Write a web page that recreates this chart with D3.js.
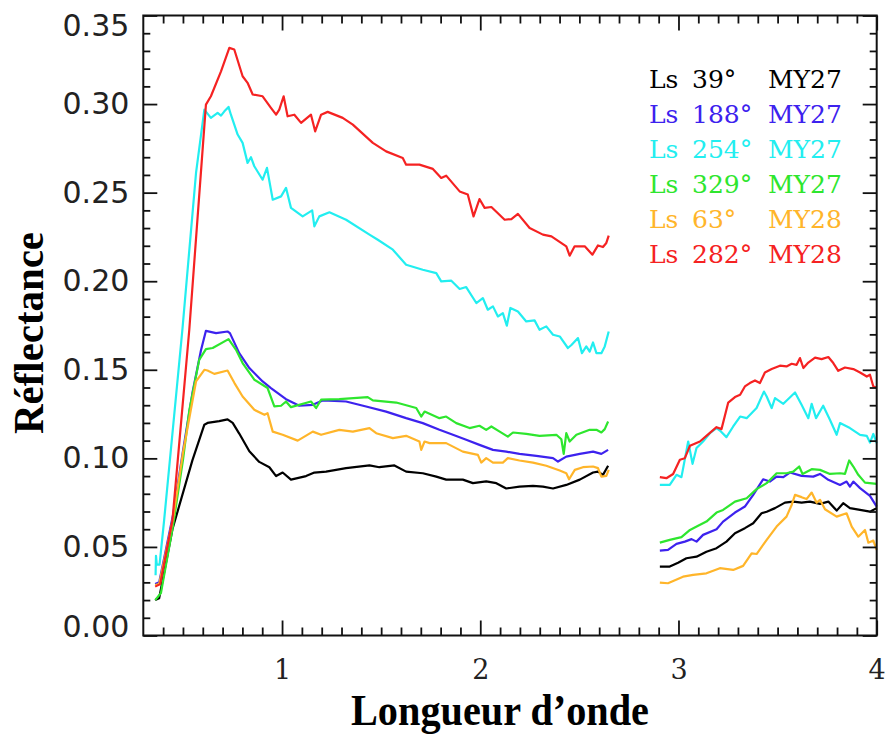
<!DOCTYPE html>
<html><head><meta charset="utf-8">
<script src="https://cdn.jsdelivr.net/npm/d3@7"></script>
<style>html,body{margin:0;padding:0;background:#fff;}</style>
</head><body>
<svg id="chart" width="885" height="735"></svg>
<script>
// ---- data: [wavelength (µm), reflectance]; null = detector gap ----
const seriesLabels = ["Ls 39°|MY27","Ls 188°|MY27","Ls 254°|MY27","Ls 329°|MY27","Ls 63°|MY28","Ls 282°|MY28"];
const seriesColors = ["#000000","#3d22ee","#22eef0","#2ee62e","#ffb52a","#f52222"];

const ls39_my27 = [[0.36,0.020],[0.38,0.021],[0.447,0.060],[0.548,0.099],[0.608,0.119],[0.624,0.120],[0.683,0.121],[0.725,0.122],[0.751,0.120],[0.784,0.114],[0.835,0.104],[0.885,0.098],[0.936,0.095],[0.97,0.090],[1.003,0.092],[1.045,0.088],[1.121,0.090],[1.163,0.092],[1.222,0.0925],[1.323,0.0945],[1.441,0.096],[1.491,0.095],[1.567,0.096],[1.626,0.0925],[1.71,0.0916],[1.778,0.0897],[1.828,0.088],[1.912,0.088],[1.963,0.086],[2.03,0.087],[2.081,0.086],[2.131,0.083],[2.198,0.084],[2.266,0.0845],[2.316,0.084],[2.367,0.083],[2.434,0.085],[2.502,0.088],[2.569,0.092],[2.594,0.0925],[2.619,0.0907],[2.645,0.0958],
  null,
  [2.906,0.0389],[2.956,0.0389],[2.998,0.0411],[3.04,0.0436],[3.091,0.0445],[3.141,0.0473],[3.192,0.0493],[3.242,0.053],[3.285,0.0577],[3.335,0.0606],[3.377,0.0634],[3.419,0.069],[3.445,0.0699],[3.487,0.0719],[3.537,0.075],[3.579,0.0756],[3.621,0.075],[3.663,0.0756],[3.714,0.0743],[3.756,0.0756],[3.798,0.0705],[3.831,0.0747],[3.865,0.0719],[3.916,0.0709],[3.966,0.0699],[4.0,0.0719]];

const ls188_my27 = [[0.36,0.029],[0.38,0.030],[0.45,0.068],[0.50,0.104],[0.548,0.137],[0.591,0.161],[0.616,0.172],[0.667,0.1707],[0.725,0.1716],[0.737,0.1707],[0.784,0.1594],[0.835,0.151],[0.902,0.1434],[0.944,0.1397],[1.02,0.1334],[1.087,0.1297],[1.155,0.1302],[1.205,0.1327],[1.323,0.1321],[1.424,0.1293],[1.525,0.1264],[1.626,0.1227],[1.71,0.1199],[1.794,0.1161],[1.862,0.1133],[1.929,0.1105],[1.996,0.1076],[2.064,0.1048],[2.131,0.1038],[2.198,0.1025],[2.283,0.1014],[2.367,0.1001],[2.392,0.0982],[2.434,0.101],[2.502,0.1025],[2.569,0.1038],[2.611,0.1025],[2.645,0.1048],
  null,
  [2.906,0.0479],[2.947,0.0483],[2.99,0.0517],[3.032,0.053],[3.066,0.0544],[3.091,0.053],[3.124,0.0568],[3.192,0.060],[3.225,0.0643],[3.285,0.0694],[3.335,0.0728],[3.377,0.0794],[3.427,0.0882],[3.461,0.0869],[3.495,0.0897],[3.529,0.0894],[3.562,0.092],[3.621,0.0901],[3.68,0.0897],[3.714,0.0912],[3.756,0.0879],[3.815,0.085],[3.848,0.0869],[3.865,0.0841],[3.882,0.0869],[3.916,0.0832],[3.966,0.0788],[4.0,0.0728]];

const ls254_my27 = [[0.362,0.034],[0.364,0.045],[0.368,0.040],[0.382,0.040],[0.405,0.065],[0.498,0.1736],[0.566,0.2611],[0.608,0.2969],[0.641,0.2922],[0.675,0.295],[0.692,0.2935],[0.709,0.2959],[0.73,0.2984],[0.742,0.294],[0.776,0.2828],[0.801,0.2781],[0.826,0.2668],[0.843,0.270],[0.86,0.2649],[0.902,0.2573],[0.924,0.264],[0.953,0.246],[0.995,0.2479],[1.02,0.2527],[1.045,0.2414],[1.104,0.2366],[1.152,0.240],[1.163,0.231],[1.188,0.2366],[1.239,0.2389],[1.323,0.2347],[1.441,0.2263],[1.483,0.2234],[1.559,0.2178],[1.626,0.2093],[1.71,0.2065],[1.778,0.2046],[1.803,0.1999],[1.854,0.2003],[1.896,0.1956],[1.929,0.1967],[1.98,0.1877],[2.013,0.1905],[2.038,0.1839],[2.064,0.1858],[2.089,0.1801],[2.114,0.182],[2.134,0.1749],[2.152,0.1849],[2.19,0.1829],[2.232,0.1773],[2.274,0.1779],[2.299,0.1726],[2.333,0.1745],[2.367,0.1698],[2.401,0.1688],[2.442,0.1623],[2.46,0.164],[2.493,0.1679],[2.513,0.1594],[2.535,0.1632],[2.552,0.1603],[2.569,0.1654],[2.586,0.1594],[2.611,0.1594],[2.628,0.1632],[2.648,0.1716],
  null,
  [2.906,0.085],[2.956,0.085],[2.99,0.0907],[3.015,0.0894],[3.049,0.1095],[3.071,0.0969],[3.091,0.1058],[3.124,0.1095],[3.158,0.1142],[3.192,0.1171],[3.209,0.1157],[3.242,0.112],[3.276,0.118],[3.311,0.1236],[3.344,0.1227],[3.394,0.1284],[3.431,0.1377],[3.445,0.1349],[3.47,0.1284],[3.487,0.134],[3.529,0.1308],[3.588,0.1372],[3.621,0.1302],[3.655,0.1227],[3.672,0.1308],[3.694,0.1227],[3.73,0.1297],[3.764,0.1218],[3.798,0.1133],[3.815,0.1199],[3.865,0.1171],[3.916,0.1133],[3.95,0.1127],[3.966,0.1089],[3.983,0.1138],[4.0,0.1086]];

const ls329_my27 = [[0.36,0.020],[0.389,0.024],[0.45,0.062],[0.50,0.099],[0.532,0.127],[0.582,0.1556],[0.616,0.1617],[0.65,0.1623],[0.73,0.1673],[0.768,0.1613],[0.801,0.1538],[0.86,0.1444],[0.927,0.1397],[0.961,0.1293],[0.995,0.1297],[1.02,0.1321],[1.045,0.1289],[1.146,0.1321],[1.172,0.1284],[1.197,0.1331],[1.289,0.1334],[1.432,0.1346],[1.458,0.1327],[1.576,0.1315],[1.677,0.1284],[1.702,0.1236],[1.719,0.1264],[1.794,0.1227],[1.828,0.1236],[1.879,0.1199],[1.946,0.1171],[1.996,0.1184],[2.03,0.1161],[2.056,0.118],[2.098,0.1151],[2.139,0.1123],[2.165,0.1146],[2.232,0.1138],[2.299,0.1127],[2.384,0.1133],[2.409,0.1108],[2.421,0.1025],[2.434,0.1142],[2.451,0.1095],[2.485,0.1133],[2.552,0.1161],[2.586,0.1161],[2.611,0.1146],[2.628,0.1165],[2.645,0.1208],
  null,
  [2.906,0.0524],[2.956,0.054],[3.015,0.0555],[3.058,0.0596],[3.099,0.0619],[3.141,0.0643],[3.192,0.0694],[3.225,0.0709],[3.285,0.0756],[3.344,0.0775],[3.394,0.0826],[3.445,0.086],[3.495,0.0916],[3.545,0.0916],[3.579,0.0925],[3.609,0.0954],[3.626,0.0912],[3.672,0.0939],[3.714,0.0935],[3.764,0.0912],[3.815,0.0916],[3.84,0.0912],[3.861,0.0988],[3.882,0.0954],[3.907,0.0907],[3.941,0.0863],[4.0,0.0856]];

const ls63_my28 = [[0.36,0.0285],[0.38,0.029],[0.45,0.066],[0.50,0.103],[0.566,0.1434],[0.608,0.150],[0.624,0.1496],[0.658,0.1477],[0.725,0.1496],[0.76,0.1425],[0.801,0.1349],[0.86,0.1274],[0.911,0.1246],[0.927,0.1255],[0.953,0.1151],[1.003,0.1133],[1.079,0.110],[1.155,0.1151],[1.197,0.1133],[1.289,0.1161],[1.357,0.1151],[1.441,0.1171],[1.475,0.1142],[1.559,0.1114],[1.626,0.1127],[1.693,0.1095],[1.702,0.1048],[1.719,0.1095],[1.744,0.1086],[1.828,0.1086],[1.912,0.1038],[1.988,0.102],[2.005,0.0976],[2.03,0.1001],[2.064,0.0976],[2.114,0.0976],[2.139,0.1001],[2.198,0.0988],[2.266,0.0976],[2.333,0.0958],[2.401,0.0931],[2.434,0.0916],[2.448,0.0882],[2.477,0.0935],[2.518,0.095],[2.569,0.0954],[2.594,0.0945],[2.611,0.0897],[2.636,0.0901],[2.648,0.0935],
  null,
  [2.906,0.0298],[2.947,0.0295],[3.023,0.0332],[3.074,0.0342],[3.141,0.0351],[3.209,0.038],[3.276,0.037],[3.326,0.0393],[3.369,0.0464],[3.394,0.046],[3.445,0.054],[3.495,0.0615],[3.545,0.0671],[3.571,0.0737],[3.588,0.0794],[3.621,0.0781],[3.646,0.077],[3.672,0.0807],[3.697,0.075],[3.714,0.0766],[3.739,0.0713],[3.798,0.0671],[3.848,0.069],[3.874,0.0615],[3.907,0.0558],[3.941,0.0596],[3.958,0.0524],[3.983,0.0536],[4.0,0.0483]];

const ls282_my28 = [[0.36,0.0276],[0.385,0.029],[0.447,0.065],[0.532,0.1726],[0.616,0.2997],[0.641,0.3044],[0.692,0.3185],[0.734,0.3317],[0.759,0.3308],[0.801,0.3157],[0.826,0.312],[0.852,0.3054],[0.902,0.3044],[0.944,0.2979],[0.97,0.294],[0.986,0.2969],[1.008,0.3044],[1.028,0.2931],[1.062,0.294],[1.096,0.2894],[1.146,0.294],[1.167,0.2846],[1.197,0.294],[1.23,0.2956],[1.306,0.2922],[1.357,0.2884],[1.458,0.2781],[1.525,0.2733],[1.609,0.2696],[1.626,0.2658],[1.693,0.2658],[1.761,0.2634],[1.803,0.2583],[1.828,0.2596],[1.896,0.2507],[1.937,0.2489],[1.966,0.2366],[1.996,0.2464],[2.022,0.2414],[2.056,0.2419],[2.123,0.2347],[2.157,0.2351],[2.19,0.238],[2.249,0.230],[2.316,0.2263],[2.359,0.2253],[2.434,0.2197],[2.451,0.2144],[2.476,0.2197],[2.527,0.2197],[2.566,0.215],[2.594,0.2202],[2.619,0.2193],[2.636,0.2216],[2.648,0.2257],
  null,
  [2.906,0.0894],[2.939,0.0888],[2.973,0.0912],[3.007,0.0992],[3.032,0.1001],[3.058,0.1071],[3.108,0.1095],[3.141,0.1127],[3.192,0.1176],[3.217,0.1165],[3.251,0.1315],[3.285,0.1346],[3.311,0.1359],[3.335,0.1406],[3.36,0.1425],[3.386,0.144],[3.411,0.1425],[3.436,0.1485],[3.47,0.1504],[3.512,0.1523],[3.545,0.1519],[3.571,0.1534],[3.596,0.1528],[3.613,0.1566],[3.63,0.151],[3.655,0.1541],[3.689,0.1569],[3.722,0.156],[3.756,0.1572],[3.781,0.1538],[3.806,0.1494],[3.84,0.1513],[3.882,0.1504],[3.916,0.1485],[3.95,0.1462],[3.966,0.1472],[3.983,0.1406],[4.0,0.140]];

const seriesData = [ls39_my27, ls188_my27, ls254_my27, ls329_my27, ls63_my28, ls282_my28];
const yMajorTicks = [0, 0.05, 0.10, 0.15, 0.20, 0.25, 0.30, 0.35];
const xMajorTicks = [1, 2, 3, 4];
const xTitle = "Longueur d’onde";
const yTitle = "Réflectance";

// ---- layout ----
const L = 143.3, R = 876.7, T = 15.5, B = 635.5;
const svg = d3.select("#chart");
const x = d3.scaleLinear().domain([0.3, 4.0]).range([L, R]);
const y = d3.scaleLinear().domain([0, 0.35]).range([B, T]);

const xMinor = d3.range(4, 40).map(d => d / 10).filter(d => !xMajorTicks.some(m => Math.abs(m - d) < 1e-9));
const yMinor = d3.range(1, 35).map(d => d / 100).filter(d => !yMajorTicks.some(m => Math.abs(m - d) < 1e-9));

// lines
const line = d3.line().defined(d => d !== null).x(d => x(d[0])).y(d => y(d[1]));
seriesData.forEach((s, i) => {
  svg.append("path").datum(s).attr("d", line)
    .attr("fill", "none").attr("stroke", seriesColors[i]).attr("stroke-width", 2.2)
    .attr("stroke-linejoin", "round");
});

function styleAxis(g) {
  g.select(".domain").remove();
  g.selectAll(".tick line").attr("stroke", "#111").attr("stroke-width", 1.8);
}
// left
svg.append("g").attr("transform", `translate(${L},0)`)
  .call(d3.axisLeft(y).tickValues(yMajorTicks).tickSizeInner(-14).tickPadding(14).tickFormat(d3.format(".2f")))
  .call(styleAxis)
  .call(g => g.selectAll("text").attr("font-family", "DejaVu Sans").attr("font-size", 30).attr("fill", "#222")
    .attr("dy", d => d === 0.35 ? "0.67em" : d === 0 ? "0.02em" : "0.32em"));
svg.append("g").attr("transform", `translate(${L},0)`)
  .call(d3.axisLeft(y).tickValues(yMinor).tickSizeInner(-7).tickFormat(""))
  .call(styleAxis);
// right
svg.append("g").attr("transform", `translate(${R},0)`)
  .call(d3.axisRight(y).tickValues(yMajorTicks).tickSizeInner(-14).tickFormat(""))
  .call(styleAxis);
svg.append("g").attr("transform", `translate(${R},0)`)
  .call(d3.axisRight(y).tickValues(yMinor).tickSizeInner(-7).tickFormat(""))
  .call(styleAxis);
// bottom
svg.append("g").attr("transform", `translate(0,${B})`)
  .call(d3.axisBottom(x).tickValues(xMajorTicks).tickSizeInner(-15).tickPadding(24).tickFormat(d3.format("d")))
  .call(styleAxis)
  .call(g => g.selectAll("text").attr("font-family", "DejaVu Serif").attr("font-size", 27).attr("fill", "#222"));
svg.append("g").attr("transform", `translate(0,${B})`)
  .call(d3.axisBottom(x).tickValues(xMinor).tickSizeInner(-8).tickFormat(""))
  .call(styleAxis);
// top
svg.append("g").attr("transform", `translate(0,${T})`)
  .call(d3.axisTop(x).tickValues(xMajorTicks).tickSizeInner(-15).tickFormat(""))
  .call(styleAxis);
svg.append("g").attr("transform", `translate(0,${T})`)
  .call(d3.axisTop(x).tickValues(xMinor).tickSizeInner(-8).tickFormat(""))
  .call(styleAxis);

// frame
svg.append("rect").attr("x", L).attr("y", T).attr("width", R - L).attr("height", B - T)
  .attr("fill", "none").attr("stroke", "#111").attr("stroke-width", 2);

// legend
const lg = svg.append("g").attr("font-family", "DejaVu Serif").attr("font-size", 25);
seriesLabels.forEach((lab, i) => {
  const parts = lab.split("|");
  const ls = parts[0].split(" ");
  const yy = 88.3 + i * 34.9;
  lg.append("text").attr("x", 649).attr("y", yy).attr("fill", seriesColors[i]).text(ls[0]);
  lg.append("text").attr("x", 692).attr("y", yy).attr("fill", seriesColors[i]).text(ls[1]);
  lg.append("text").attr("x", 768).attr("y", yy).attr("fill", seriesColors[i]).text(parts[1]);
});

// titles
svg.append("text").attr("x", 500).attr("y", 725).attr("text-anchor", "middle")
  .attr("font-family", "Liberation Serif").attr("font-weight", "bold").attr("font-size", 44)
  .attr("textLength", 298).attr("lengthAdjust", "spacingAndGlyphs").text(xTitle);
svg.append("text").attr("transform", "translate(43,333) rotate(-90)").attr("text-anchor", "middle")
  .attr("font-family", "Liberation Serif").attr("font-weight", "bold").attr("font-size", 42)
  .attr("textLength", 202).attr("lengthAdjust", "spacingAndGlyphs").text(yTitle);
</script>
</body></html>
